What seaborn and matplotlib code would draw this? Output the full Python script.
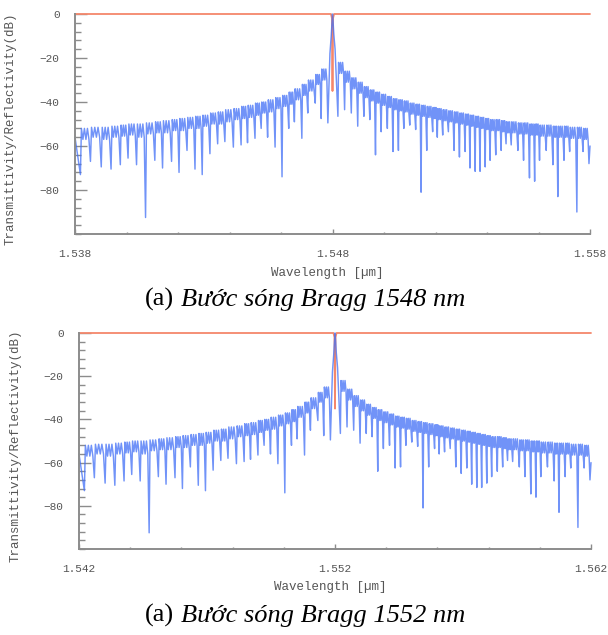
import numpy as np
import pandas as pd
import seaborn as sns
import matplotlib
matplotlib.use("Agg")
import matplotlib.pyplot as plt
from matplotlib.ticker import MultipleLocator

# spectrum, offsets in nm from the Bragg wavelength
# (both panels show the same grating response, only shifted)
start_nm, start_db = -10.0, -56
end_nm, end_db = 10.0, -60

left_dip_nm = [-9.79, -9.40, -8.98, -8.60, -8.24, -7.94, -7.61, -7.26, -6.90, -6.60,
               -6.25, -5.96, -5.65, -5.34, -5.06, -4.76, -4.46, -4.18, -3.85, -3.55,
               -3.30, -3.01, -2.77, -2.52, -2.23, -1.96, -1.70, -1.48, -1.19, -0.96,
               -0.67, -0.44, -0.18]
left_dip_db = [-73, -67, -69.5, -70.5, -68.5, -65.5, -68.5, -92.5, -66.5, -70,
               -67, -72, -62, -70.5, -73, -63.5, -59, -58, -60.5, -59.5,
               -58.5, -56.5, -52, -56, -60.5, -74, -52, -49, -56.5, -45,
               -40.5, -47.5, -49.5]
left_top_db = [-52, -51.5, -51.5, -51, -50.5, -50, -50, -49.5, -49, -48.5,
               -48, -47.5, -47, -46.5, -46, -45, -44.5, -43.5, -43, -42,
               -41.5, -40.5, -40, -39, -38, -37, -35.5, -34, -32, -30,
               -27.5, -25]
left_shoulder_db = [-57, -56, -57, -56, -55.5, -55, -56, -54.5, -54, -54,
                    -53, -53, -52, -52, -51, -50, -50, -49, -48, -47.5,
                    -47, -46, -45, -44.5, -43, -42, -41, -39, -37, -35,
                    -32, -30]

center_nm = [-0.10, -0.05, -0.02, 0.0, 0.02, 0.05, 0.10]
center_db = [-18, -10, -4, 0, -3, -9, -16]

right_dip_nm = [0.21, 0.47, 0.73, 0.98, 1.22, 1.45, 1.67, 1.89, 2.13, 2.35,
                2.56, 2.77, 3.00, 3.23, 3.44, 3.66, 3.89, 4.07, 4.28, 4.50,
                4.72, 4.93, 5.15, 5.34, 5.54, 5.73, 5.93, 6.12, 6.34, 6.55,
                6.74, 6.94, 7.20, 7.42, 7.65, 7.85, 8.04, 8.30, 8.56, 8.75,
                8.99, 9.21, 9.49, 9.73, 9.96]
right_dip_db = [-46.5, -43.5, -45, -51, -46.5, -48, -64, -53.5, -52, -62.5,
                -62, -52, -50.5, -52.5, -81, -62, -53.5, -56, -55, -53.5,
                -62, -65, -62.5, -70, -71.5, -71.5, -69.5, -66.5, -64, -62,
                -59, -59.5, -62, -66.5, -74.5, -76, -66.5, -62, -68.5, -83,
                -66.5, -62.5, -90, -62.5, -68]
right_top_db = [-22, -26, -29, -31, -33, -34.5, -35.5, -36.5, -37.5, -38.5,
                -39, -39.5, -40.5, -41, -41.5, -42, -42.5, -43, -43.5, -44,
                -44.5, -45, -45.5, -46, -46.5, -47, -47.5, -48, -48, -48.5,
                -49, -49, -49.5, -49.5, -50, -50, -50.5, -50.5, -51, -51,
                -51, -51.5, -51.5, -52]
right_shoulder_db = [-27, -31, -34, -36, -38, -39.5, -40.5, -41.5, -42.5, -43.5,
                     -44, -44.5, -45.5, -46, -46.5, -47, -47.5, -48, -48.5, -49,
                     -49.5, -50, -50.5, -51, -51.5, -52, -52.5, -53, -53, -53.5,
                     -54, -54, -54.5, -54.5, -55, -55, -55.5, -55.5, -56, -56,
                     -56, -56.5, -56.5, -57]

# transmittivity: flat at 0 dB with a narrow notch at the Bragg wavelength
trans_nm = [-10.0, -0.06, -0.02, 0.0, 0.02, 0.06, 10.0]
trans_db = [0, 0, -2, -35, -2, 0, 0]

bragg_um = [1.548, 1.552]
captions = ["Bước sóng Bragg 1548 nm", "Bước sóng Bragg 1552 nm"]

# where the fine ripple (peak/shoulder/peak/...) sits inside one lobe
LOBE_SHAPE = [0.1, 0.25, 0.4, 0.55, 0.7, 0.85]
LOBE_LEVEL = ["top", "sh", "top", "sh", "top", "sh"]


def lobes(dip_nm, dip_db, top_db, shoulder_db, xs, ys):
    for i in range(len(dip_nm)):
        xs.append(dip_nm[i])
        ys.append(dip_db[i])
        if i < len(dip_nm) - 1:
            x0, x1 = dip_nm[i], dip_nm[i + 1]
            for f, lev in zip(LOBE_SHAPE, LOBE_LEVEL):
                xs.append(x0 + f * (x1 - x0))
                ys.append(top_db[i] if lev == "top" else shoulder_db[i])


xs, ys = [start_nm], [start_db]
lobes(left_dip_nm, left_dip_db, left_top_db, left_shoulder_db, xs, ys)
xs += center_nm
ys += center_db
lobes(right_dip_nm, right_dip_db, right_top_db, right_shoulder_db, xs, ys)
xs.append(end_nm)
ys.append(end_db)
refl_nm = np.array(xs)
refl_db = np.array(ys)

sns.set_theme(style="ticks")
plt.rcParams["font.family"] = ["Liberation Mono", "DejaVu Sans Mono"]

fig = plt.figure(figsize=(6.08, 6.35), dpi=100)
axes_pos = [[75 / 608, 1 - 234 / 635, 515 / 608, 220 / 635],
            [79 / 608, 1 - 549 / 635, 512 / 608, 216 / 635]]
cap_y = [1 - 306 / 635, 1 - 622 / 635]
gray = "#8c8c8c"

for k in range(2):
    ax = fig.add_axes(axes_pos[k])
    c = bragg_um[k]
    df_t = pd.DataFrame({"wl": c + np.array(trans_nm) / 1000, "db": trans_db})
    df_r = pd.DataFrame({"wl": c + refl_nm / 1000, "db": refl_db})
    sns.lineplot(data=df_t, x="wl", y="db", ax=ax, sort=False, estimator=None,
                 color="#f4876b", linewidth=1.3)
    sns.lineplot(data=df_r, x="wl", y="db", ax=ax, sort=False, estimator=None,
                 color="#416ff6", linewidth=1.05, alpha=0.75)
    for ln in ax.lines:
        ln.set_clip_on(False)

    ax.set_xlim(c - 0.010, c + 0.010)
    ax.set_ylim(-100, 0)
    ax.set_xticks([c - 0.010, c, c + 0.010])
    ax.set_xticklabels([f"{c - 0.010:.3f}", f"{c:.3f}", f"{c + 0.010:.3f}"])
    ax.xaxis.set_minor_locator(MultipleLocator(0.002))
    ax.set_yticks([0, -20, -40, -60, -80])
    ax.yaxis.set_minor_locator(MultipleLocator(4))
    ax.tick_params(axis="y", which="major", direction="in", length=8.5, width=1,
                   color=gray, labelsize=8, labelcolor="#555555", pad=11)
    ax.tick_params(axis="y", which="minor", direction="in", length=4.3, width=1, color=gray)
    ax.tick_params(axis="x", which="major", direction="in", length=3.6, width=1,
                   color=gray, labelsize=8, labelcolor="#555555", pad=11)
    ax.tick_params(axis="x", which="minor", direction="in", length=1.8, width=1, color=gray)
    for s in ["top", "right"]:
        ax.spines[s].set_visible(False)
    for s in ["left", "bottom"]:
        ax.spines[s].set_color(gray)
        ax.spines[s].set_linewidth(1.4)

    ax.set_xlabel("Wavelength [µm]", fontsize=9, color="#555555")
    ax.set_ylabel("Transmittivity/Reflectivity(dB)", fontsize=9, color="#555555")
    ax.xaxis.set_label_coords(0.49, -0.15)
    ax.yaxis.set_label_coords(-0.113, 0.48)

    fig.text(145 / 608, cap_y[k], "(a)", family="Liberation Serif", fontsize=19,
             color="black", va="baseline")
    fig.text(181 / 608, cap_y[k], captions[k], family="Liberation Serif", fontsize=19,
             style="italic", color="black", va="baseline")

fig.savefig("out.png", dpi=100)
